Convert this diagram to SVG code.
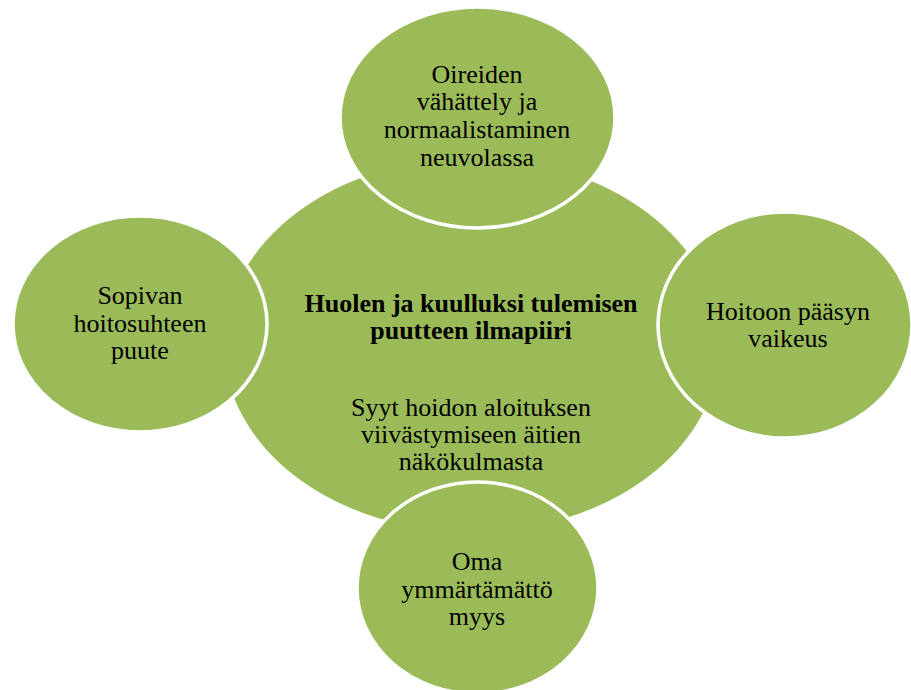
<svg xmlns="http://www.w3.org/2000/svg" width="911" height="690" viewBox="0 0 911 690">
<style>
.c{fill:#9BBB59;}
.s{fill:#9BBB59;stroke:#FFFFFF;stroke-width:3.5;}
.t{font-size:26px;fill:#000;text-anchor:middle;}
.b{font-weight:bold;}
</style>
<rect width="911" height="690" fill="#FFFFFF"/>
<g id="connectors"></g>
<g id="center">
<ellipse class="c" cx="472" cy="345" rx="248" ry="187"/>
<g class="t" font-family="Liberation Serif, Times New Roman, DejaVu Serif, serif">
<text class="b" x="471" y="312">Huolen ja kuulluksi tulemisen</text>
<text class="b" x="471" y="339">puutteen ilmapiiri</text>
<text x="471" y="416">Syyt hoidon aloituksen</text>
<text x="471" y="443">viivästymiseen äitien</text>
<text x="471" y="470">näkökulmasta</text>
</g>
</g>
<g id="top">
<ellipse class="s" cx="477.5" cy="117.5" rx="137.5" ry="110.5"/>
<g class="t" font-family="Liberation Serif, Times New Roman, DejaVu Serif, serif">
<text x="477" y="83">Oireiden</text>
<text x="477" y="110">vähättely ja</text>
<text x="477" y="138">normaalistaminen</text>
<text x="477" y="166">neuvolassa</text>
</g>
</g>
<g id="left">
<ellipse class="s" cx="140" cy="324" rx="127" ry="108"/>
<g class="t" font-family="Liberation Serif, Times New Roman, DejaVu Serif, serif">
<text x="140" y="304">Sopivan</text>
<text x="140" y="332">hoitosuhteen</text>
<text x="140" y="359">puute</text>
</g>
</g>
<g id="right">
<ellipse class="s" cx="785" cy="325" rx="127" ry="113"/>
<g class="t" font-family="Liberation Serif, Times New Roman, DejaVu Serif, serif">
<text x="788" y="320">Hoitoon pääsyn</text>
<text x="788" y="347">vaikeus</text>
</g>
</g>
<g id="bottom">
<ellipse class="s" cx="477.5" cy="588" rx="120.5" ry="106"/>
<g class="t" font-family="Liberation Serif, Times New Roman, DejaVu Serif, serif">
<text x="477" y="570">Oma</text>
<text x="477" y="598">ymmärtämättö</text>
<text x="477" y="625">myys</text>
</g>
</g>
</svg>
